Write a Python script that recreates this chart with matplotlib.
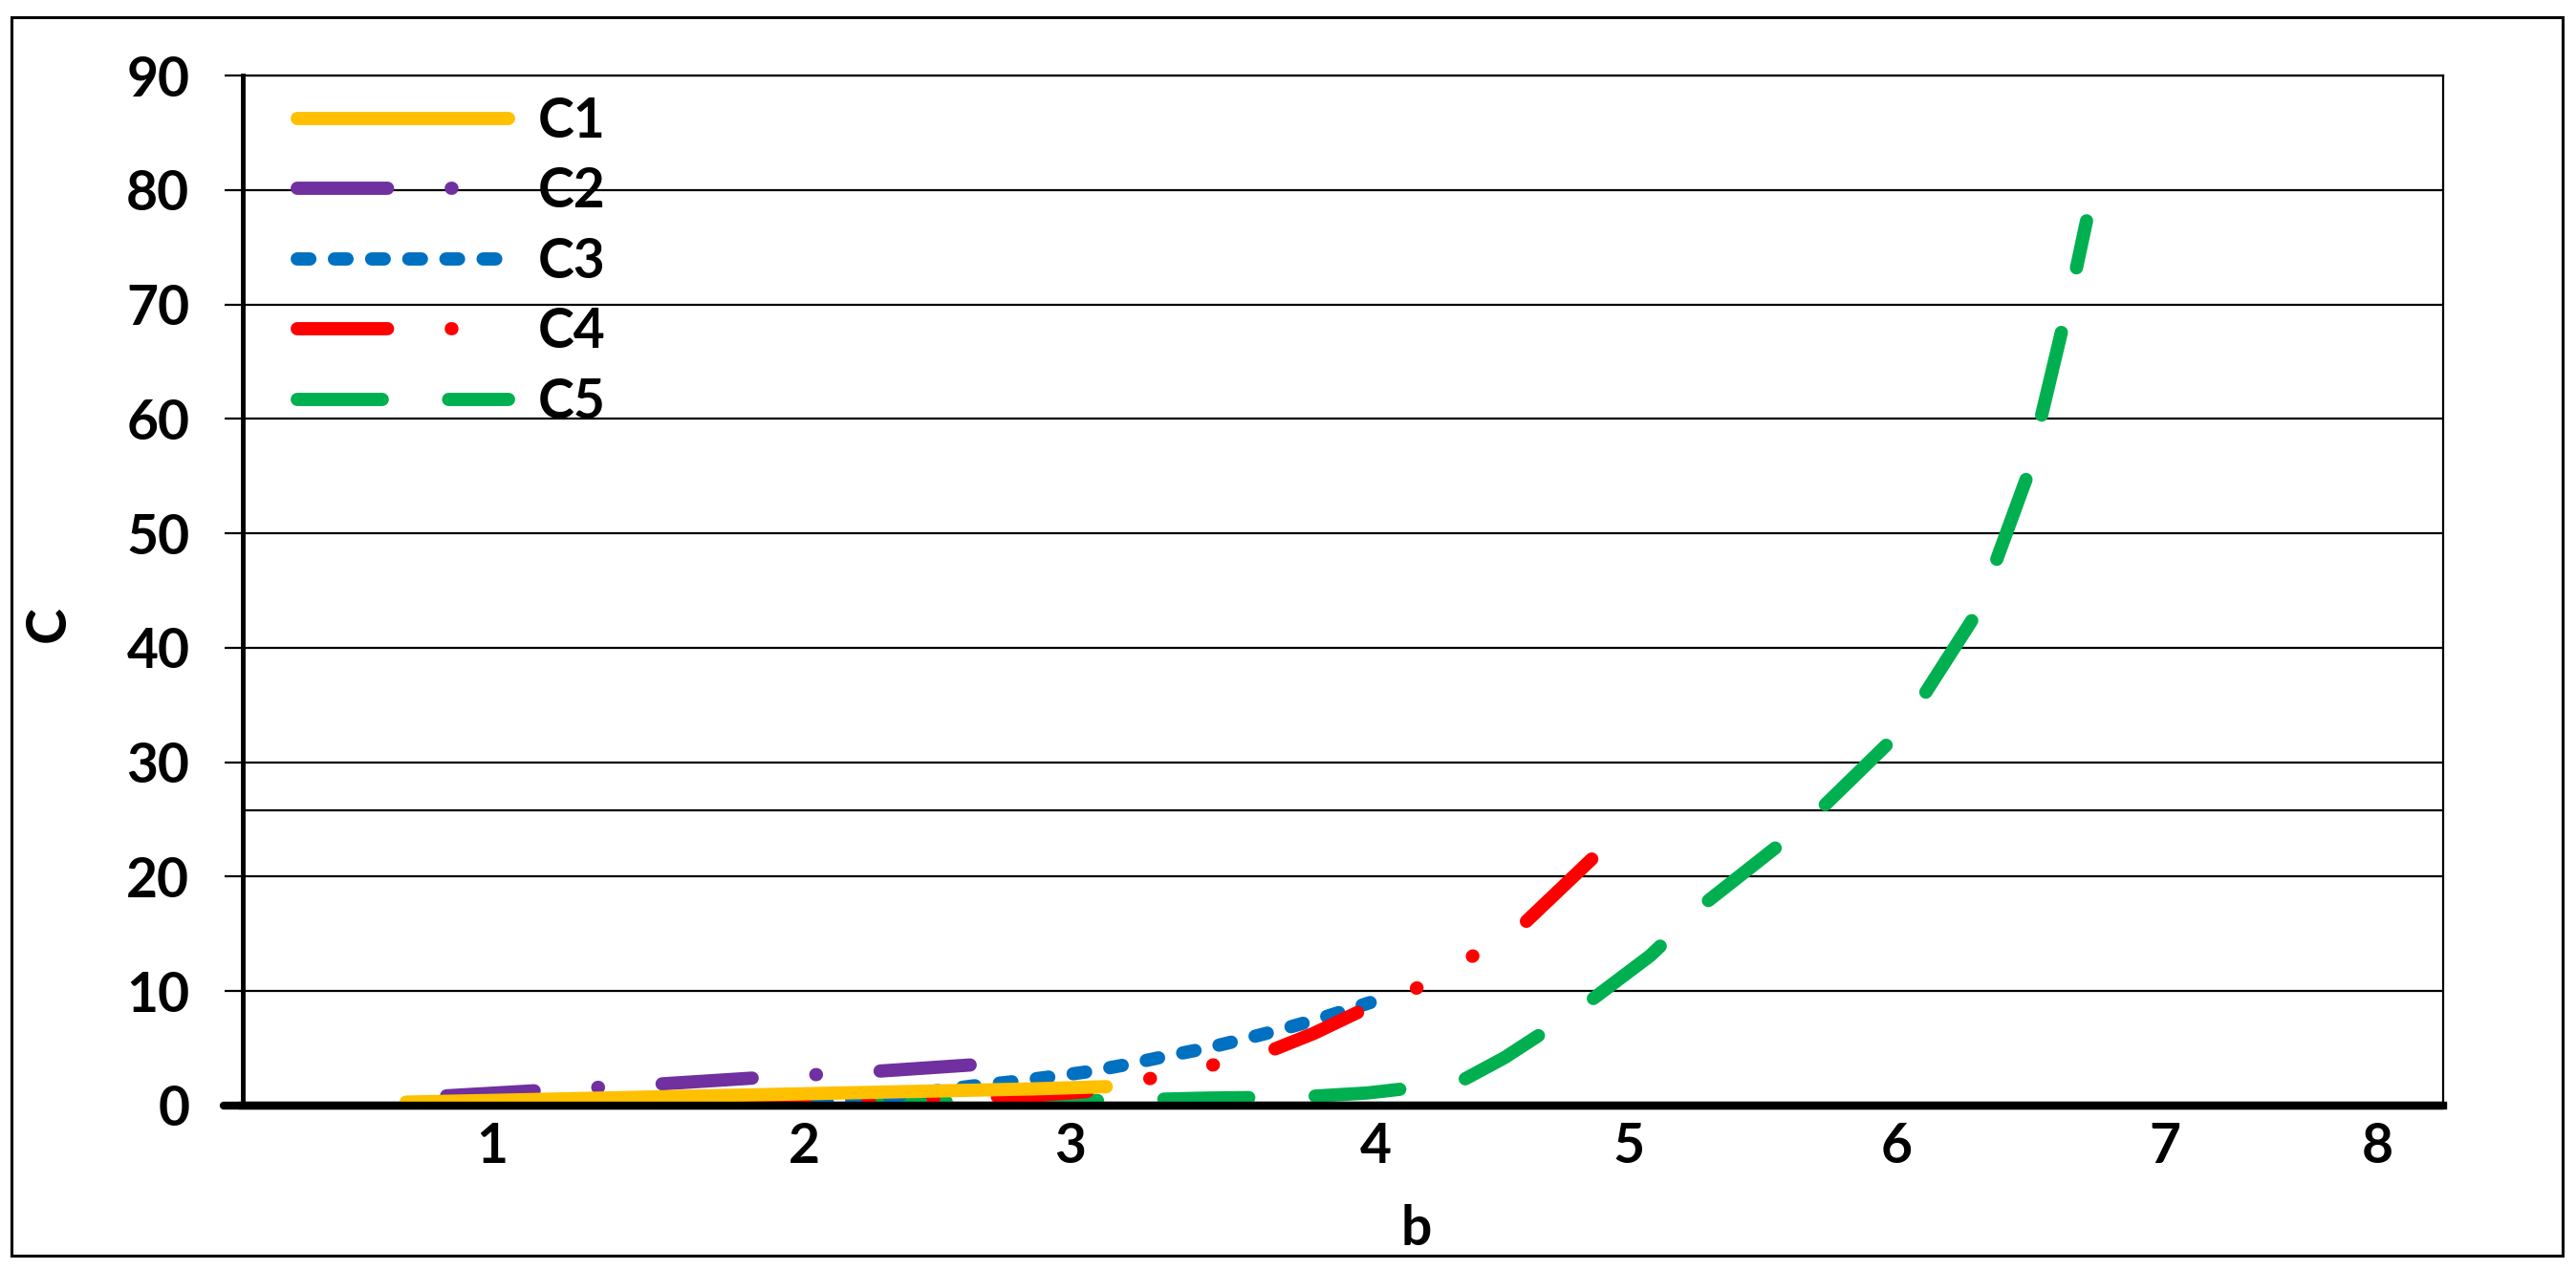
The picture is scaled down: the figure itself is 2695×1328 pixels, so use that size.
import numpy as np
import matplotlib.pyplot as plt
from matplotlib.patches import Rectangle

# values (b on x, C on y)
b1 = [0.68, 1.0, 1.5, 2.0, 2.5, 3.0, 3.28]
c1 = [0.3, 0.45, 0.7, 0.95, 1.2, 1.45, 1.65]

b2 = [0.83, 1.2, 1.6, 2.0, 2.4, 2.81]
c2 = [0.85, 1.35, 1.85, 2.45, 2.95, 3.6]

b3 = [0.96, 1.5, 2.0, 2.34, 2.62, 2.78, 2.92, 3.07, 3.21, 3.36, 3.5, 3.65,
      3.79, 3.93, 4.08, 4.26]
c3 = [0.0, 0.1, 0.25, 0.5, 1.2, 1.7, 2.05, 2.5, 2.95, 3.6, 4.3, 5.0,
      5.8, 6.65, 7.65, 9.0]

b4 = [0.7, 1.2, 1.8, 2.2, 2.6, 3.0, 3.2, 3.41, 3.65, 3.88, 4.05, 4.21,
      4.42, 4.63, 4.84, 5.09]
c4 = [0.0, 0.05, 0.2, 0.35, 0.6, 0.85, 1.2, 2.2, 3.4, 4.7, 6.3, 8.1,
      10.1, 12.9, 16.1, 21.7]

b5 = [1.25, 1.8, 2.4, 2.9, 3.3, 3.65, 4.0, 4.25, 4.4, 4.61, 4.76, 4.91,
      5.08, 5.3, 5.51, 5.78, 5.95, 6.19, 6.32, 6.5, 6.58, 6.7, 6.75, 6.83,
      6.88, 6.92]
c5 = [0.05, 0.15, 0.3, 0.35, 0.45, 0.65, 0.75, 1.1, 1.5, 2.3, 4.2, 6.5,
      9.2, 13.1, 17.8, 22.8, 26.3, 31.8, 36.0, 42.6, 47.3, 55.0, 60.0, 67.9,
      72.9, 77.3]

labels = ["C1", "C2", "C3", "C4", "C5"]
colors = ["#FFC000", "#7030A0", "#0070C0", "#FF0000", "#00B050"]

# the reference's b axis is not evenly spaced
b_ticks = [1.0, 2.159, 3.147, 4.282, 5.221, 6.215, 7.21, 8.0]
b_tick_labels = ["1", "2", "3", "4", "5", "6", "7", "8"]
c_ticks = [0, 10, 20, 30, 40, 50, 60, 70, 80, 90]
extra_grid = 25.8

plt.rcParams["font.family"] = ["Lato", "DejaVu Sans"]
plt.rcParams["font.weight"] = "bold"

LW = 10
fig = plt.figure(figsize=(26.95, 13.28), dpi=100)
ax = fig.add_axes([0.0942, 0.1288, 0.8542, 0.8117])
ax.set_xlim(0.073, 8.244)
ax.set_ylim(0, 90)


def dash_offset(x, y, pattern, b_start):
    # shift the dash pattern so that a dash begins where b == b_start
    pts = ax.transData.transform(np.column_stack([x, y]))
    seg = np.hypot(*np.diff(pts, axis=0).T) * 72 / fig.dpi / LW
    s = np.concatenate([[0], np.cumsum(seg)])
    target = np.interp(b_start, x, s)
    return (-target) % sum(pattern)


dashes = [
    None,
    (6.8, 4.8, 0.05, 4.8),
    (0.95, 1.85),
    (6.8, 4.8, 0.05, 4.8, 0.05, 4.8),
    (6.4, 5.0),
]
anchors = [None, 2.44, 4.23, 4.84, 5.95]
xs = [b1, b2, b3, b4, b5]
ys = [c1, c2, c3, c4, c5]
zorders = [7, 6, 4, 5, 3]

for x, y, lab, col, d, a, z in zip(xs, ys, labels, colors, dashes, anchors,
                                   zorders):
    ls = "-" if d is None else (dash_offset(x, y, d, a), d)
    ax.plot(x, y, ls=ls, color=col, lw=LW, label=lab, zorder=z,
            solid_capstyle="round", dash_capstyle="round")

ax.set_xticks(b_ticks)
ax.set_xticklabels(b_tick_labels)
ax.set_yticks(c_ticks)

ax.grid(axis="y", color="black", lw=1.6, zorder=1)
ax.grid(axis="x", visible=False)
ax.axhline(extra_grid, color="black", lw=1.6, zorder=1)
ax.axhline(0, xmin=-0.0087, xmax=1.0, color="black", lw=6, zorder=8,
           clip_on=False, solid_capstyle="round")

ax.tick_params(axis="y", direction="out", length=14, width=1.6, pad=26,
               labelsize=41)
ax.tick_params(axis="x", length=0, pad=12, labelsize=41)

for side in ["top", "right"]:
    ax.spines[side].set_linewidth(1.6)
ax.spines["left"].set_linewidth(3.5)
ax.spines["bottom"].set_linewidth(6)

ax.set_xlabel("b", fontsize=41, fontweight="bold")
ax.xaxis.set_label_coords(0.5335, -0.12)
ax.xaxis.label.set_va("center")
ax.set_ylabel("C", fontsize=41, fontweight="bold")
ax.yaxis.set_label_coords(-0.0878, 0.4675)
ax.yaxis.label.set_va("center")

leg = ax.legend(loc="upper left", bbox_to_anchor=(0.0248, 0.98),
                frameon=False, fontsize=41, handlelength=3.88,
                handletextpad=0.55, labelspacing=0.36, borderpad=0,
                borderaxespad=0)
# legend samples start at the beginning of their pattern
for line, d in zip(leg.get_lines(), dashes):
    if d is not None:
        line.set_linestyle((0, d))

fig.patches.append(Rectangle((12 / 2695, 14 / 1328), 2669 / 2695, 1296 / 1328,
                             transform=fig.transFigure, fill=False,
                             edgecolor="black", lw=2.2))

fig.savefig("out.png", dpi=100)
